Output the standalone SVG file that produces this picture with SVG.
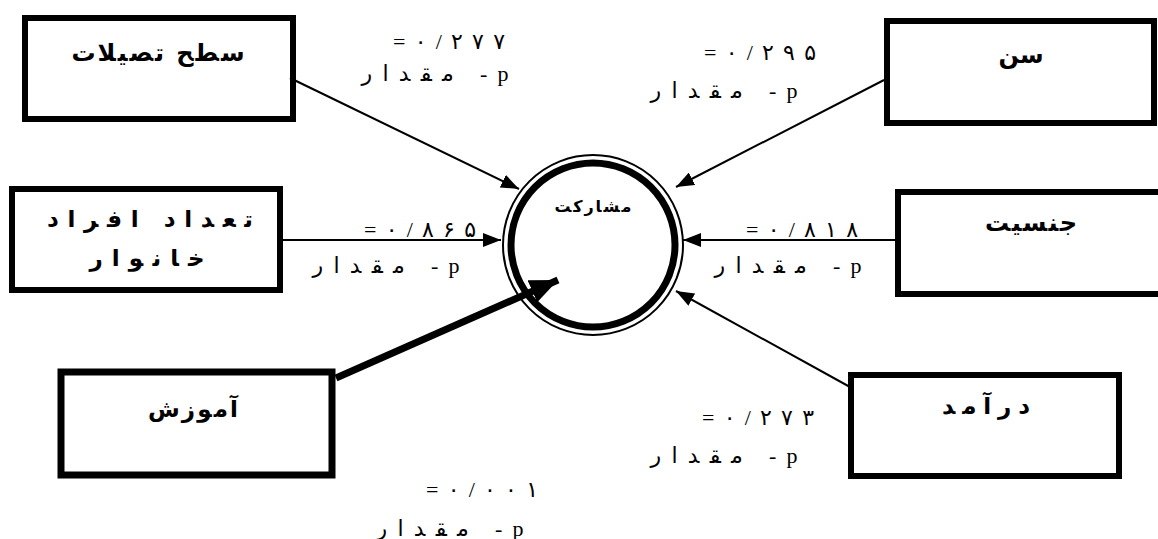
<svg xmlns="http://www.w3.org/2000/svg" width="1158" height="539" viewBox="0 0 1158 539">
  <style>
    .box { fill: #fff; stroke: #000; stroke-width: 6; }
    .node-text { font-family: "DejaVu Sans", "Liberation Sans", sans-serif; font-weight: bold; font-size: 23px; fill: #000; text-anchor: middle; direction: rtl; }
    .lbl { font-family: "Liberation Serif", "DejaVu Sans", serif; font-size: 22px; fill: #000; text-anchor: middle; direction: rtl; }
    .conn { stroke: #000; stroke-width: 2; fill: none; }
    .conn-thick { stroke: #000; stroke-width: 7; fill: none; }
  </style>
  <defs>
    <marker id="arr" viewBox="0 0 18 14" refX="18" refY="7" markerWidth="18" markerHeight="14" markerUnits="userSpaceOnUse" orient="auto">
      <path d="M0,0 L18,7 L0,14 Z" fill="#000"/>
    </marker>
    <marker id="arrBig" viewBox="0 0 28 24" refX="28" refY="12" markerWidth="28" markerHeight="24" markerUnits="userSpaceOnUse" orient="auto">
      <path d="M0,0 L28,12 L0,24 Z" fill="#000"/>
    </marker>
  </defs>
  <rect width="1158" height="539" fill="#fff"/>

  <g id="node-mosharekat">
    <circle cx="593" cy="245" r="90" fill="#fff" stroke="#000" stroke-width="2"/>
    <circle cx="593" cy="245" r="82" fill="none" stroke="#000" stroke-width="7"/>
    <text class="node-text" x="593" y="212" style="font-size:16px" textLength="77" lengthAdjust="spacing">مشارکت</text>
  </g>

  <g id="node-tahsilat">
    <rect class="box" x="25" y="18" width="268" height="101"/>
    <text class="node-text" x="158" y="61" style="font-size:24px" textLength="173" lengthAdjust="spacing">سطح تصیلات</text>
  </g>

  <g id="node-khanevar">
    <rect class="box" x="12" y="189" width="268" height="101"/>
    <text class="node-text" x="150" y="227" textLength="206" lengthAdjust="spacing">تعداد افراد</text>
    <text class="node-text" x="147" y="266" textLength="115" lengthAdjust="spacing">خانوار</text>
  </g>

  <g id="node-amoozesh">
    <rect class="box" x="61" y="372" width="271" height="103" style="stroke-width:7"/>
    <text class="node-text" x="193" y="417" textLength="90" lengthAdjust="spacing">آموزش</text>
  </g>

  <g id="node-sen">
    <rect class="box" x="887" y="21" width="267" height="102"/>
    <text class="node-text" x="1021" y="63" style="font-size:24px">سن</text>
  </g>

  <g id="node-jensiat">
    <rect class="box" x="898" y="192" width="270" height="102"/>
    <text class="node-text" x="1031" y="231" style="font-size:24px" textLength="92" lengthAdjust="spacing">جنسیت</text>
  </g>

  <g id="node-daramad">
    <rect class="box" x="851" y="375" width="268" height="101"/>
    <text class="node-text" x="986" y="414" textLength="88" lengthAdjust="spacing">درآمد</text>
  </g>

  <g id="connectors">
    <line class="conn" x1="290" y1="78" x2="519" y2="189" marker-end="url(#arr)"/>
    <line class="conn" x1="283" y1="240" x2="501" y2="240" marker-end="url(#arr)"/>
    <line class="conn" x1="884" y1="80" x2="676" y2="187" marker-end="url(#arr)"/>
    <line class="conn" x1="895" y1="240" x2="683" y2="240" marker-end="url(#arr)"/>
    <line class="conn" x1="850" y1="387" x2="676" y2="291" marker-end="url(#arr)"/>
    <line class="conn-thick" x1="336" y1="378" x2="558" y2="280" marker-end="url(#arrBig)"/>
  </g>

  <g id="labels">
    <text class="lbl" x="449" y="49" textLength="112" lengthAdjust="spacing">۰/۲۷۷=</text>
    <text class="lbl" x="435" y="81" textLength="147" lengthAdjust="spacing">p- مقدار</text>
    <text class="lbl" x="760" y="60" textLength="112" lengthAdjust="spacing">۰/۲۹۵=</text>
    <text class="lbl" x="724" y="98" textLength="147" lengthAdjust="spacing">p- مقدار</text>
    <text class="lbl" x="420" y="237" textLength="112" lengthAdjust="spacing">۰/۸۶۵=</text>
    <text class="lbl" x="386" y="273" textLength="147" lengthAdjust="spacing">p- مقدار</text>
    <text class="lbl" x="802" y="237" textLength="112" lengthAdjust="spacing">۰/۸۱۸=</text>
    <text class="lbl" x="788" y="273" textLength="147" lengthAdjust="spacing">p- مقدار</text>
    <text class="lbl" x="758" y="425" textLength="112" lengthAdjust="spacing">۰/۲۷۳=</text>
    <text class="lbl" x="724" y="463" textLength="147" lengthAdjust="spacing">p- مقدار</text>
    <text class="lbl" x="482" y="497" textLength="112" lengthAdjust="spacing">۰/۰۰۱=</text>
    <text class="lbl" x="450" y="536" textLength="147" lengthAdjust="spacing">p- مقدار</text>
  </g>
</svg>
